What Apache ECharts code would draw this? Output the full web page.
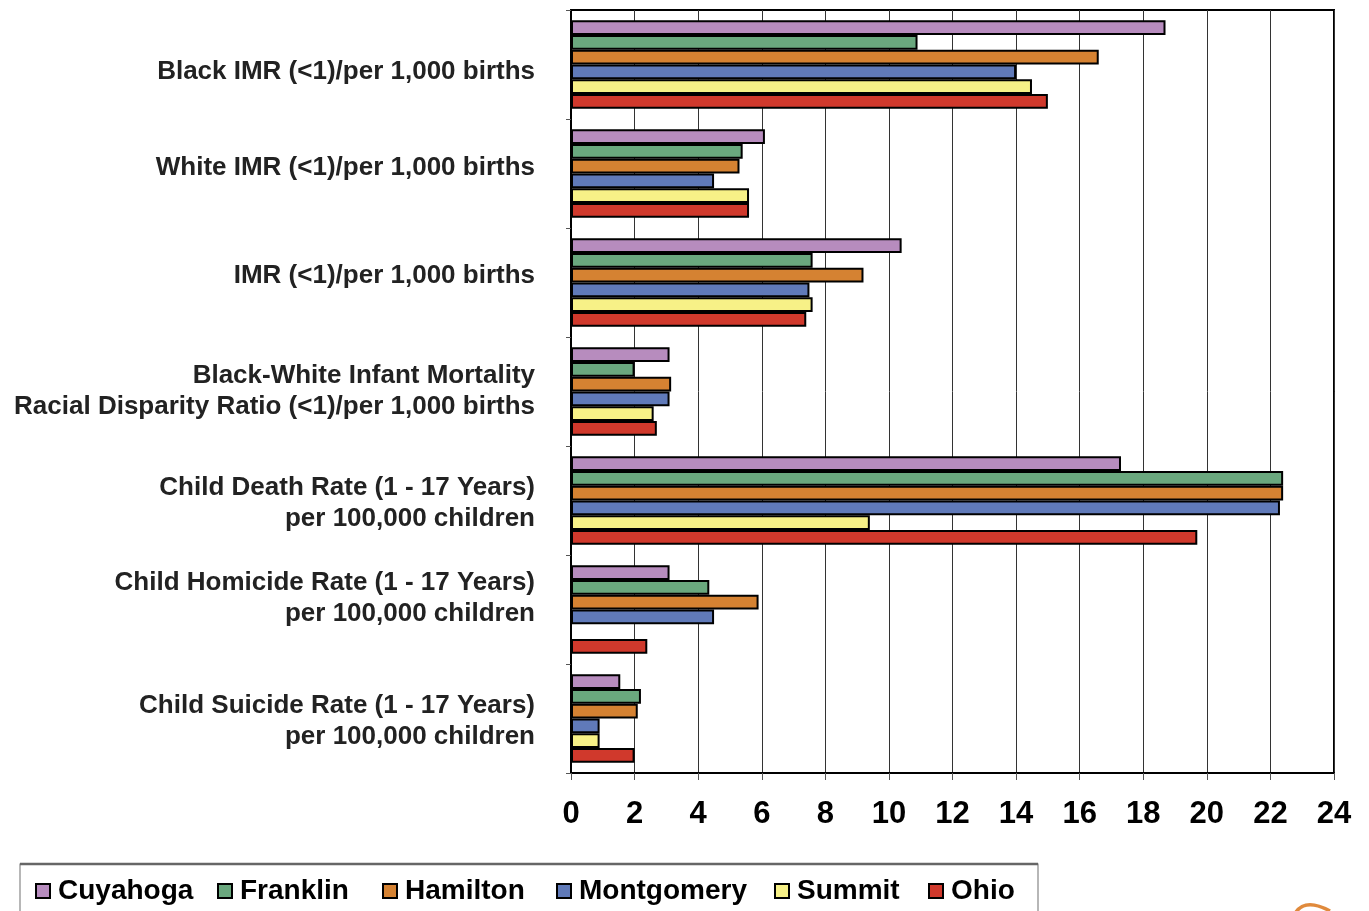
<!DOCTYPE html>
<html>
<head>
<meta charset="utf-8">
<script src="https://cdn.jsdelivr.net/npm/echarts@6/dist/echarts.min.js"></script>
<style>
  html, body { margin: 0; padding: 0; background: #fff; }
  #chart { width: 1369px; height: 911px; }
</style>
</head>
<body>
<div id="chart"></div>
<script>
// Indicator categories, top to bottom
const categories = [
  'Black IMR (<1)/per 1,000 births',
  'White IMR (<1)/per 1,000 births',
  'IMR (<1)/per 1,000 births',
  'Black-White Infant Mortality\nRacial Disparity Ratio (<1)/per 1,000 births',
  'Child Death Rate (1 - 17 Years)\nper 100,000 children',
  'Child Homicide Rate (1 - 17 Years)\nper 100,000 children',
  'Child Suicide Rate (1 - 17 Years)\nper 100,000 children'
];

// Rates by county / state
const cuyahoga   = [18.7, 6.1, 10.4, 3.1, 17.3, 3.1, 1.55];
const franklin   = [10.9, 5.4, 7.6, 2.0, 22.4, 4.35, 2.2];
const hamilton   = [16.6, 5.3, 9.2, 3.15, 22.4, 5.9, 2.1];
const montgomery = [14.0, 4.5, 7.5, 3.1, 22.3, 4.5, 0.9];
const summit     = [14.5, 5.6, 7.6, 2.6, 9.4, null, 0.9];
const ohio       = [15.0, 5.6, 7.4, 2.7, 19.7, 2.4, 2.0];

const seriesNames = ['Cuyahoga', 'Franklin', 'Hamilton', 'Montgomery', 'Summit', 'Ohio'];
const seriesValues = [cuyahoga, franklin, hamilton, montgomery, summit, ohio];
const seriesColors = ['#B78CBE', '#6AA87E', '#D58232', '#607AB9', '#F7F187', '#D0392C'];

// Value axis ticks
const xMin = 0, xMax = 24, xStep = 2;

const FONT = '"Liberation Sans", Arial, Helvetica, sans-serif';

// Small vertical nudges of the category labels (px, + = down)
const labelNudge = [7, -6, -7, 0, 3, -11, 3];

// Legend entries are laid out individually along the bottom frame
const legendLeft = [35, 217, 382, 556, 774, 928];

const GRID_LEFT = 571;
const LABEL_GAP = 36;

const chart = echarts.init(document.getElementById('chart'), null, { renderer: 'canvas' });

const frameGraphics = [
  {
    id: 'legendBox', type: 'rect', z: 0,
    shape: { x: 20, y: 864, width: 1018, height: 80 },
    style: { fill: '#fff', stroke: '#888', lineWidth: 1.2 }
  },
  {
    id: 'legendTop', type: 'line', z: 1,
    shape: { x1: 20, y1: 864, x2: 1038, y2: 864 },
    style: { stroke: '#666', lineWidth: 2.5 }
  },
  {
    id: 'swoosh', type: 'bezierCurve', z: 1,
    shape: { x1: 1296, y1: 912, cpx1: 1306, cpy1: 898, x2: 1330, y2: 911 },
    style: { stroke: '#E08A3C', lineWidth: 3.5, fill: null }
  }
];

const option = {
  backgroundColor: '#fff',
  animation: false,
  grid: {
    left: GRID_LEFT, right: 35, top: 10, bottom: 138,
    show: true, borderColor: '#000', borderWidth: 2, backgroundColor: 'transparent'
  },
  xAxis: {
    type: 'value',
    min: xMin, max: xMax, interval: xStep,
    position: 'bottom',
    axisLine: { show: true, lineStyle: { color: '#000', width: 2 } },
    axisTick: { show: true, length: 7, lineStyle: { color: '#555', width: 1 } },
    splitLine: { show: true, lineStyle: { color: '#333', width: 1 } },
    axisLabel: {
      color: '#000', fontFamily: FONT, fontWeight: 'bold', fontSize: 31, margin: 26
    }
  },
  yAxis: {
    type: 'category',
    inverse: true,
    data: categories,
    axisLine: { show: true, lineStyle: { color: '#000', width: 2 } },
    axisTick: { show: true, length: 5, lineStyle: { color: '#555', width: 1 } },
    splitLine: { show: false },
    // category names are drawn below as text placed on the axis positions
    axisLabel: { show: false }
  },
  legend: seriesNames.map((name, i) => ({
    data: [name],
    left: legendLeft[i],
    top: 877,
    padding: 0,
    itemWidth: 14,
    itemHeight: 14,
    icon: 'rect',
    selectedMode: false,
    itemStyle: { borderColor: '#000', borderWidth: 2 },
    textStyle: { color: '#000', fontFamily: FONT, fontWeight: 'bold', fontSize: 28, padding: [0, 0, 0, 3] }
  })),
  graphic: frameGraphics,
  series: seriesNames.map((name, i) => ({
    name: name,
    type: 'bar',
    data: seriesValues[i],
    barGap: '0%',
    barCategoryGap: '19%',
    itemStyle: { color: seriesColors[i], borderColor: '#000', borderWidth: 2 },
    emphasis: { disabled: true }
  }))
};

chart.setOption(option);

// Category labels, right-aligned against the axis at each category's position
const labelGraphics = categories.map((name, i) => {
  const y = chart.convertToPixel({ yAxisIndex: 0 }, name) + labelNudge[i];
  return {
    id: 'catLabel' + i, type: 'text', z: 5,
    x: GRID_LEFT - LABEL_GAP, y: y,
    style: {
      text: name,
      fill: '#222',
      fontFamily: FONT, fontWeight: 'bold', fontSize: 26,
      lineHeight: 31,
      align: 'right', verticalAlign: 'middle',
      textAlign: 'right', textVerticalAlign: 'middle'
    }
  };
});

chart.setOption({ graphic: frameGraphics.concat(labelGraphics) });
</script>
</body>
</html>
